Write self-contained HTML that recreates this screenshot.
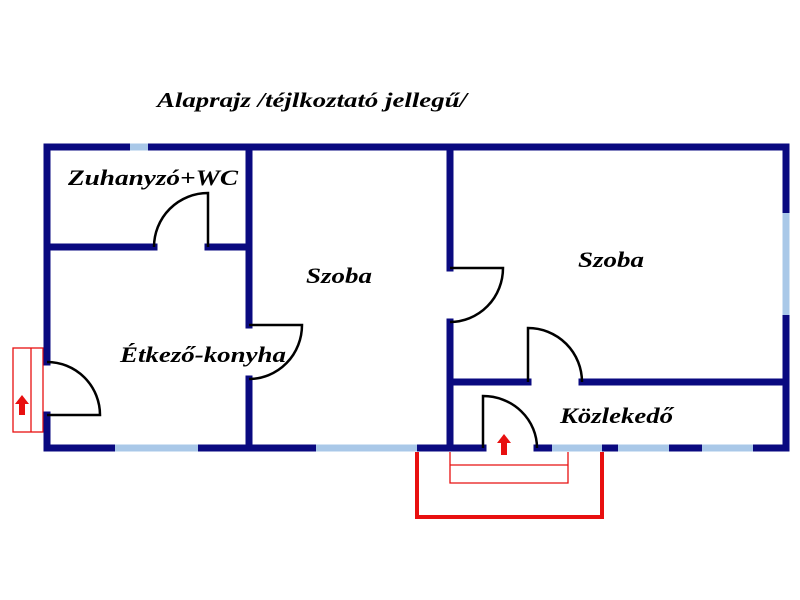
<!DOCTYPE html>
<html><head><meta charset="utf-8"><style>html,body{margin:0;padding:0;background:#fff}svg{display:block}
.t{font-family:"Liberation Serif",serif;font-weight:bold;font-style:italic;fill:#000}</style></head>
<body>
<svg width="800" height="600" viewBox="0 0 800 600" xmlns="http://www.w3.org/2000/svg">
<!-- red entrance -->
<path d="M417 452 V517 H602 V452" fill="none" stroke="#e81010" stroke-width="4"/>
<g fill="none" stroke="#e81010" stroke-width="1.3">
<path d="M450 452 V483 H568 V452 M450 465 H568"/>
<rect x="13" y="348" width="30" height="84"/>
<path d="M31 348 V432"/>
</g>
<!-- walls -->
<g stroke="#0a0a80" stroke-width="7" stroke-linecap="square" fill="none">
<path d="M47 147 H786 V448"/>
<path d="M47 147 V362 M47 415 V448"/>
<path d="M47 448 H483 M537 448 H786"/>
<path d="M249 147 V325 M249 379 V448"/>
<path d="M47 247 H154 M208 247 H249"/>
<path d="M450 147 V268 M450 322 V448"/>
<path d="M450 382 H528 M582 382 H786"/>
</g>
<!-- windows -->
<g stroke="#a9c8e8" stroke-width="7">
<path d="M130 147 H148"/>
<path d="M115 448 H198"/>
<path d="M316 448 H417"/>
<path d="M552 448 H602 M618 448 H669 M702 448 H753"/>
<path d="M786 213 V315"/>
</g>
<g fill="#e81010">
<path d="M22 395 L29 404 H25 V415 H19 V404 H15 Z"/>
<path d="M504 434 L511 443 H507 V455 H501 V443 H497 Z"/>
</g>
<!-- doors -->
<g fill="none" stroke="#000" stroke-width="2.5">
<path d="M154 247 A54 54 0 0 1 208 193 V247"/>
<path d="M249 325 H302 A53 54 0 0 1 249 379"/>
<path d="M450 268 H503 A53 54 0 0 1 450 322"/>
<path d="M528 382 V328 A54 54 0 0 1 582 382"/>
<path d="M483 448 V396 A54 52 0 0 1 537 448"/>
<path d="M47 362 A53 53 0 0 1 100 415 H47"/>
</g>
<text class="t" x="157" y="107" font-size="21" textLength="310" lengthAdjust="spacingAndGlyphs">Alaprajz /téjlkoztató jellegű/</text>
<text class="t" x="68" y="185" font-size="22" textLength="170" lengthAdjust="spacingAndGlyphs">Zuhanyzó+WC</text>
<text class="t" x="306" y="283" font-size="22" textLength="66" lengthAdjust="spacingAndGlyphs">Szoba</text>
<text class="t" x="578" y="267" font-size="22" textLength="66" lengthAdjust="spacingAndGlyphs">Szoba</text>
<text class="t" x="120" y="362" font-size="22" textLength="166" lengthAdjust="spacingAndGlyphs">Étkező-konyha</text>
<text class="t" x="560" y="423" font-size="22" textLength="113" lengthAdjust="spacingAndGlyphs">Közlekedő</text>
</svg>
</body></html>
